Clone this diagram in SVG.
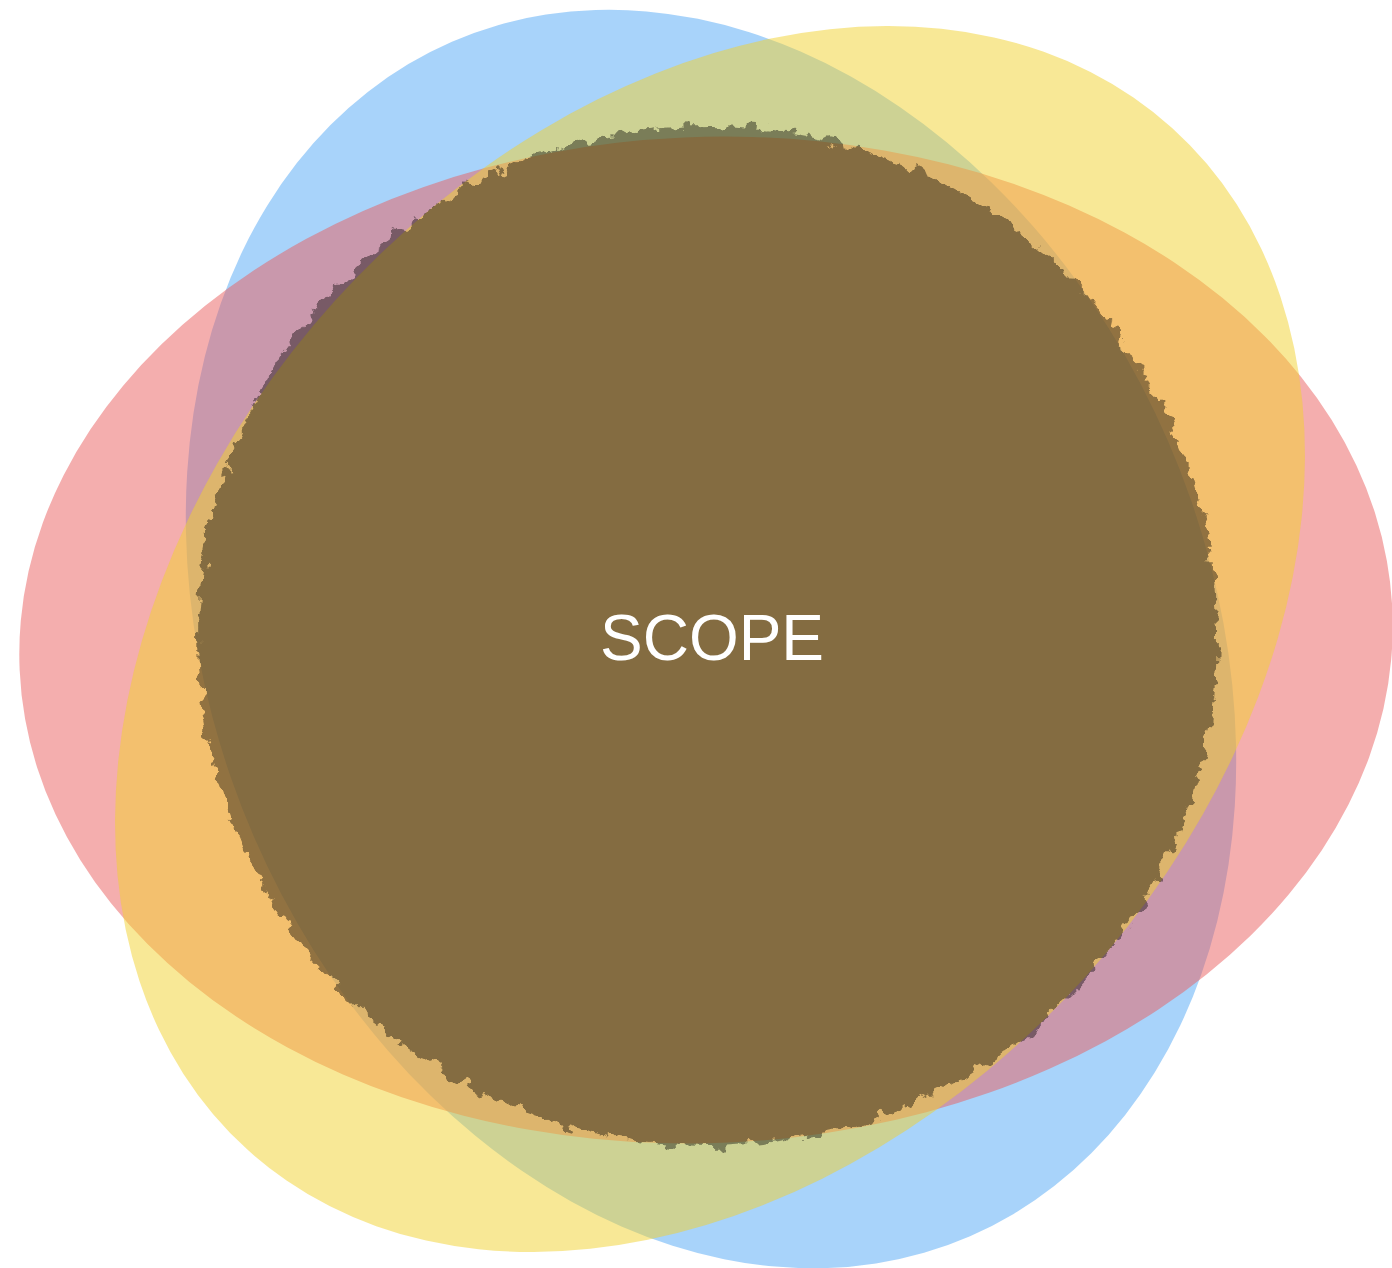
<svg xmlns="http://www.w3.org/2000/svg" width="1392" height="1268" viewBox="0 0 1392 1268">
  <style>
    .set { opacity: 0.5; }
    .label { font-family: "Liberation Sans", Arial, Helvetica, sans-serif; font-size: 64px; fill: #ffffff; text-anchor: middle; }
  </style>
  <defs>
    <filter id="rough" x="-5%" y="-5%" width="110%" height="110%" color-interpolation-filters="sRGB">
      <feTurbulence type="fractalNoise" baseFrequency="0.07" numOctaves="3" seed="7" result="noise"/>
      <feDisplacementMap in="SourceGraphic" in2="noise" scale="22" xChannelSelector="R" yChannelSelector="G"/>
    </filter>
  </defs>
  <rect width="1392" height="1268" fill="#ffffff"/>
  <g id="set-blue">
    <ellipse class="set" cx="711" cy="639" rx="498" ry="651" transform="rotate(-23.45 711 639)" fill="#51A7F5"/>
  </g>
  <g id="set-red">
    <ellipse class="set" cx="706" cy="640" rx="687" ry="503" transform="rotate(-2.5 706 640)" fill="#E95D5D"/>
  </g>
  <g id="set-yellow">
    <ellipse class="set" cx="710" cy="639" rx="505" ry="689" transform="rotate(42.15 710 639)" fill="#F1D12D"/>
  </g>
  <g id="scope" opacity="0.4">
    <circle cx="708" cy="636" r="502" fill="#000000"/>
    <circle cx="708" cy="636" r="510" fill="#000000" filter="url(#rough)"/>
  </g>
  <g id="scope-label">
    <text class="label" x="712" y="660">SCOPE</text>
  </g>
  <g id="connectors"/>
</svg>
